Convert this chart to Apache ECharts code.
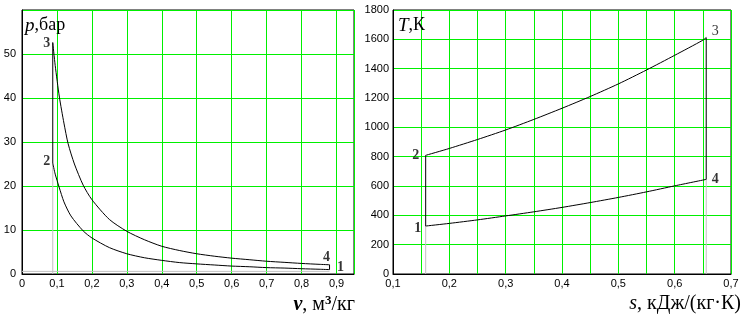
<!DOCTYPE html>
<html><head><meta charset="utf-8">
<script src="https://cdn.jsdelivr.net/npm/echarts@6/dist/echarts.min.js"></script>
<style>html,body{margin:0;padding:0;background:#fff}#c{width:743px;height:324px}</style>
</head><body><div id="c"></div>
<script>
// ---- p-v diagram data ----
const vCompression = [0.088, 0.095, 0.106, 0.12, 0.14, 0.175, 0.2, 0.25, 0.3, 0.35, 0.4, 0.45, 0.5, 0.55, 0.6, 0.65, 0.7, 0.75, 0.8, 0.85, 0.88];
const pCompression = [25.2, 22.7, 19.8, 16.4, 13.2, 9.8, 8.2, 6.0, 4.6, 3.7, 3.1, 2.6, 2.3, 2.05, 1.8, 1.65, 1.45, 1.35, 1.2, 1.08, 1.0];
const vExpansion = [0.088, 0.095, 0.107, 0.12, 0.132, 0.15, 0.175, 0.2, 0.25, 0.3, 0.35, 0.4, 0.45, 0.5, 0.55, 0.6, 0.65, 0.7, 0.75, 0.8, 0.85, 0.88];
const pExpansion = [52.6, 47.4, 40.2, 34.3, 29.6, 25.0, 20.2, 16.9, 12.4, 9.7, 7.8, 6.3, 5.35, 4.6, 4.05, 3.6, 3.25, 2.9, 2.65, 2.4, 2.2, 2.1];
const pvLabels = ['1', '2', '3', '4'];
const pvV = [0.88, 0.088, 0.088, 0.88];
const pvP = [1.0, 25.2, 52.6, 2.1];
const pvMarkerP = 0.6;

// ---- T-s diagram data ----
const sHeatIn = [0.158, 0.2, 0.25, 0.3, 0.35, 0.4, 0.45, 0.5, 0.55, 0.6, 0.65, 0.656];
const THeatIn = [809, 856, 917, 982, 1054, 1130, 1210, 1296, 1391, 1491, 1594, 1612];
const sHeatOut = [0.158, 0.2, 0.25, 0.3, 0.35, 0.4, 0.45, 0.5, 0.55, 0.6, 0.656];
const THeatOut = [327, 345, 369, 396, 424, 454, 487, 522, 560, 601, 645];
const tsLabels = ['1', '2', '3', '4'];
const tsS = [0.158, 0.158, 0.656, 0.656];
const tsT = [327, 809, 1612, 645];

// ---- axis ticks ----
const pvXTicks = {min: 0, max: 0.95, step: 0.1};
const pvYTicks = {min: 0, max: 60, step: 10};
const tsXTicks = {min: 0.1, max: 0.7, step: 0.05};
const tsYTicks = {min: 0, max: 1800, step: 200};

const zip = (a, b) => a.map((x, i) => [x, b[i]]);

const GREEN = '#00f000', GRAY = '#c0c0c0';
const tickFont = {color: '#000', fontFamily: 'Liberation Sans, Arial, sans-serif', fontSize: 11};
const fmtDec = v => {
  const r = Math.round(v * 100);
  if (r % 10 !== 0) return '';
  return r === 0 ? '0' : (r / 100).toFixed(1).replace('.', ',');
};

function valAxis(gi, t, fmt, margin) {
  return {
    type: 'value', gridIndex: gi, min: t.min, max: t.max, interval: t.step,
    axisLine: {show: true, onZero: false, lineStyle: {color: '#000', width: 1}},
    axisTick: {show: false},
    splitLine: {show: true, lineStyle: {color: GREEN, width: 1}},
    axisLabel: Object.assign({margin: margin, formatter: fmt, showMaxLabel: true, showMinLabel: true}, tickFont)
  };
}

const ptLabel = (bold, size) => ({fontFamily: 'Liberation Serif, Times New Roman, serif', fontWeight: bold ? 'bold' : 'normal', fontSize: size, color: '#000'});

const pvOffsets = [[11, -2], [-6, -2], [-6, 1], [-3, -7]];
const tsOffsets = [[-8, 2], [-10, 0], [9, -6], [9, 0]];
const pvBold = [true, true, true, true];
const tsBold = [true, true, false, true];

function labelSeries(xi, labels, xs, ys, offsets, bolds, size) {
  return {
    type: 'scatter', xAxisIndex: xi, yAxisIndex: xi, symbolSize: 0, z: 5, silent: true,
    data: labels.map((l, i) => ({
      value: [xs[i], ys[i]],
      label: Object.assign({show: true, position: 'inside', offset: offsets[i], formatter: l,
        align: 'center', verticalAlign: 'middle'}, ptLabel(bolds[i], size))
    }))
  };
}

function line(xi, data, color, z, smooth) {
  return {type: 'line', symbol: 'none', silent: true, xAxisIndex: xi, yAxisIndex: xi, z: z,
    smooth: smooth ? 0.25 : false,
    lineStyle: {color: color, width: 1}, data: data};
}

const option = {
  animation: false,
  backgroundColor: '#fff',
  grid: [
    {left: 22, top: 10, width: 332, height: 264, show: true, borderColor: '#000', borderWidth: 1, backgroundColor: 'transparent'},
    {left: 393, top: 10, width: 338, height: 264, show: true, borderColor: '#000', borderWidth: 1, backgroundColor: 'transparent'}
  ],
  xAxis: [
    Object.assign(valAxis(0, pvXTicks, fmtDec, 4), {position: 'bottom'}),
    Object.assign(valAxis(1, tsXTicks, fmtDec, 4), {position: 'bottom'})
  ],
  yAxis: [
    valAxis(0, pvYTicks, v => (v > 55 ? '' : String(v)), 6),
    valAxis(1, tsYTicks, v => String(v), 4)
  ],
  series: [
    // p-v
    line(0, [[pvV[1], 0], [pvV[1], pvP[1]]], GRAY, 2, false),
    line(0, [[0, pvMarkerP], [pvV[0], pvMarkerP]], GRAY, 2, false),
    line(0, zip(vCompression, pCompression), '#000', 3, true),
    line(0, zip(vExpansion, pExpansion), '#000', 3, true),
    line(0, [[pvV[1], pvP[1]], [pvV[2], pvP[2]]], '#000', 3, false),
    line(0, [[pvV[3], pvP[3]], [pvV[0], pvP[0]]], '#000', 3, false),
    // T-s
    line(1, [[tsS[0], 0], [tsS[0], tsT[0]]], GRAY, 2, false),
    line(1, [[tsS[3], 0], [tsS[3], tsT[3]]], GRAY, 2, false),
    line(1, zip(sHeatIn, THeatIn), '#000', 3, true),
    line(1, zip(sHeatOut, THeatOut), '#000', 3, true),
    line(1, [[tsS[0], tsT[0]], [tsS[1], tsT[1]]], '#000', 3, false),
    line(1, [[tsS[2], tsT[2]], [tsS[3], tsT[3]]], '#000', 3, false),
    labelSeries(0, pvLabels, pvV, pvP, pvOffsets, pvBold, 14),
    labelSeries(1, tsLabels, tsS, tsT, tsOffsets, tsBold, 14)
  ],
  graphic: [
    {type: 'text', left: 25, top: 16, z: 10, style: {
      text: '{i|p}{r|,бар}',
      rich: {i: {fontFamily: 'Liberation Serif', fontStyle: 'italic', fontSize: 19, fill: '#000'},
             r: {fontFamily: 'Liberation Serif', fontSize: 18, fill: '#000'}}}},
    {type: 'text', left: 398, top: 16, z: 10, style: {
      text: '{i|T}{r|,К}',
      rich: {i: {fontFamily: 'Liberation Serif', fontStyle: 'italic', fontSize: 19, fill: '#000'},
             r: {fontFamily: 'Liberation Serif', fontSize: 18, fill: '#000'}}}},
    {type: 'text', right: 388, top: 294, z: 10, style: {
      text: '{i|v}{r|, м}{s|3}{r|/кг}',
      rich: {i: {fontFamily: 'Liberation Serif', fontStyle: 'italic', fontWeight: 'bold', fontSize: 20, fill: '#000', lineHeight: 22},
             r: {fontFamily: 'Liberation Serif', fontSize: 20, fill: '#000', lineHeight: 22},
             s: {fontFamily: 'Liberation Serif', fontWeight: 'bold', fontSize: 13, fill: '#000', lineHeight: 22, verticalAlign: 'top'}}}},
    {type: 'text', right: 2, top: 294, z: 10, style: {
      text: '{i|s}{r|, кДж/(кг·К)}',
      rich: {i: {fontFamily: 'Liberation Serif', fontStyle: 'italic', fontSize: 20, fill: '#000'},
             r: {fontFamily: 'Liberation Serif', fontSize: 20, fill: '#000'}}}}
  ]
};

const chart = echarts.init(document.getElementById('c'), null, {renderer: 'canvas'});
chart.setOption(option);
</script>
</body></html>
